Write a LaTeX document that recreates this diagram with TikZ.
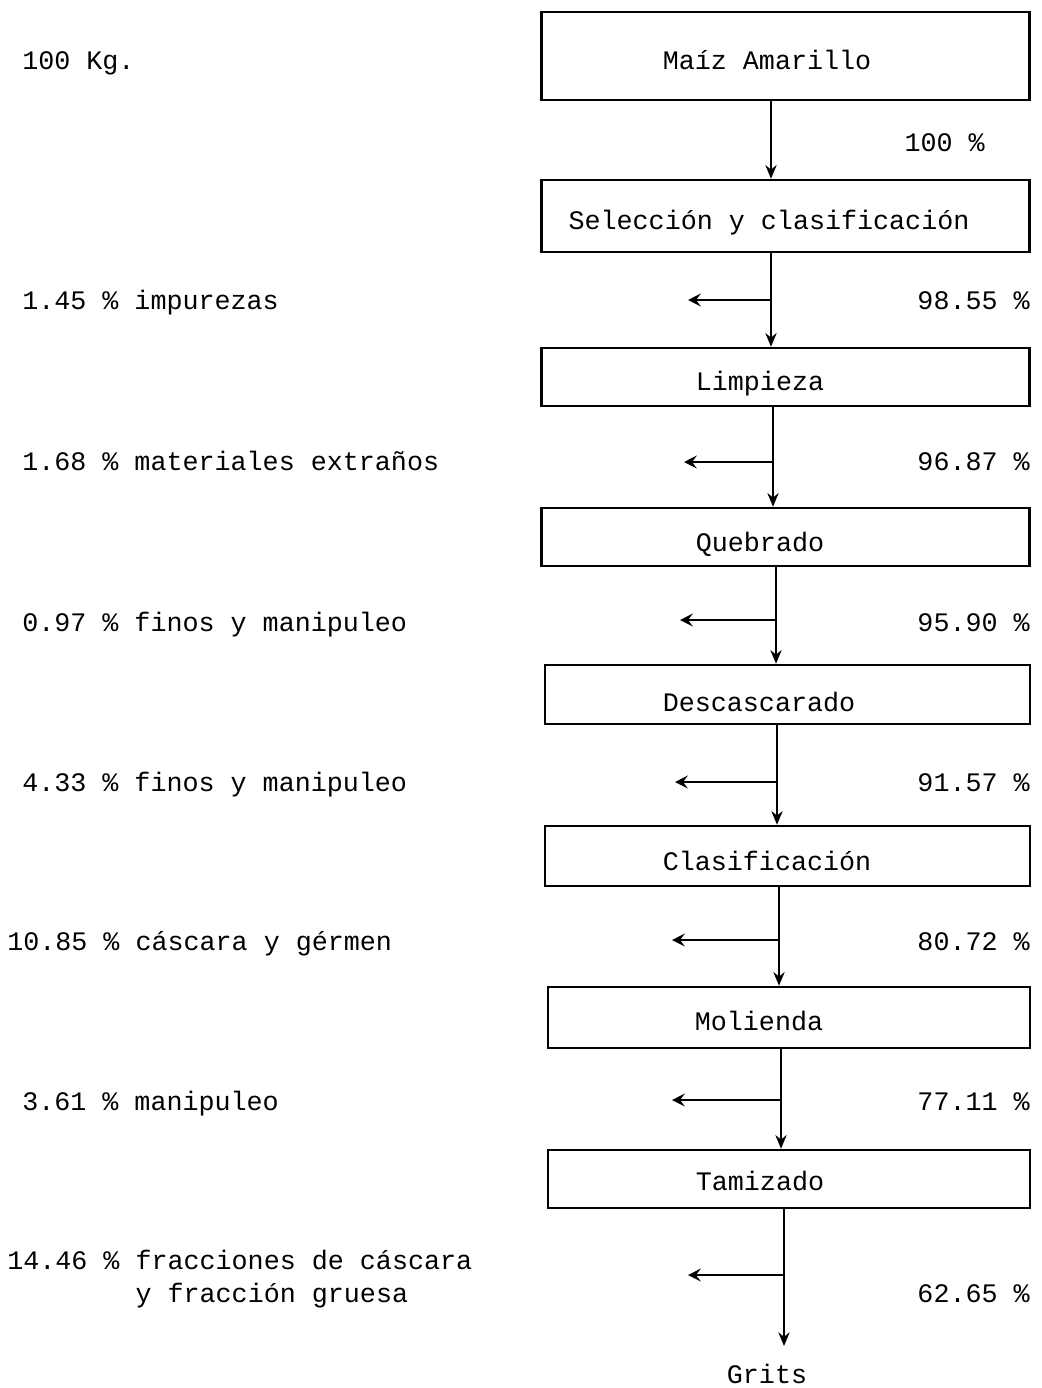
\documentclass[tikz,border=0pt]{standalone}
\usepackage{fontspec}
\setmonofont{Liberation Mono}
\usetikzlibrary{arrows.meta, positioning, calc}

\begin{document}
\begin{tikzpicture}[
    x=0.025cm, y=-0.025cm,
    font=\ttfamily\fontsize{19}{23}\selectfont,
    etapa/.style={rectangle, draw=black, line width=1.8pt, minimum width=12.2cm, inner sep=0pt},
    txt/.style={inner sep=0pt},
    flujo/.style={-{Stealth[length=3.4mm, width=2.8mm]}, line width=1.5pt},
    merma/.style={-{Stealth[length=3.2mm, width=3.2mm, inset=1.2mm]}, line width=1.8pt}
]
\useasboundingbox (0,0) rectangle (1041,1388);

% Etapas del proceso
\node[etapa, minimum height=2.2cm] (maiz) at (785.5,56) {};
\node[etapa, minimum height=1.8cm] (sel) at (785.5,216) {};
\node[etapa, minimum height=1.45cm] (limp) at (785.5,377) {};
\node[etapa, minimum height=1.45cm] (queb) at (785.5,537) {};
\node[etapa, minimum width=12.125cm, minimum height=1.475cm] (desc) at (787.5,694.5) {};
\node[etapa, minimum width=12.125cm, minimum height=1.5cm] (clas) at (787.5,856) {};
\node[etapa, minimum width=12.05cm, minimum height=1.525cm] (mol) at (789,1017.5) {};
\node[etapa, minimum width=12.05cm, minimum height=1.45cm] (tam) at (789,1179) {};

\node[txt, anchor=base] (tmaiz) at (767,69) {Maíz Amarillo};
\node[txt, anchor=base] (tsel) at (769,229) {Selección y clasificación};
\node[txt, anchor=base] (tlimp) at (760,390) {Limpieza};
\node[txt, anchor=base] (tqueb) at (760,551) {Quebrado};
\node[txt, anchor=base] (tdesc) at (759,711) {Descascarado};
\node[txt, anchor=base] (tclas) at (767,870) {Clasificación};
\node[txt, anchor=base] (tmol) at (759,1030) {Molienda};
\node[txt, anchor=base] (ttam) at (760,1190) {Tamizado};
\node[txt, anchor=base] (grits) at (767,1383) {Grits};

% Puntos de derivacion
\coordinate (r0) at (771,140);
\coordinate (r1) at (771,300);  \coordinate (s1) at (688,300);
\coordinate (r2) at (773,462);  \coordinate (s2) at (684,462);
\coordinate (r3) at (776,620);  \coordinate (s3) at (680,620);
\coordinate (r4) at (777,782);  \coordinate (s4) at (675,782);
\coordinate (r5) at (779,940);  \coordinate (s5) at (672,940);
\coordinate (r6) at (781,1100); \coordinate (s6) at (672,1100);
\coordinate (r7) at (784,1275); \coordinate (s7) at (688,1275);
\coordinate (fin) at (784,1346);

% Flujo principal
\draw[flujo] (maiz.south -| r0) -- (sel.north -| r0);
\draw[flujo] (sel.south -| r1) -- (limp.north -| r1);
\draw[flujo] (limp.south -| r2) -- (queb.north -| r2);
\draw[flujo] (queb.south -| r3) -- (desc.north -| r3);
\draw[flujo] (desc.south -| r4) -- (clas.north -| r4);
\draw[flujo] (clas.south -| r5) -- (mol.north -| r5);
\draw[flujo] (mol.south -| r6) -- (tam.north -| r6);
\draw[flujo] (tam.south -| r7) -- (fin);

% Mermas
\draw[merma] (r1) -- (s1);
\draw[merma] (r2) -- (s2);
\draw[merma] (r3) -- (s3);
\draw[merma] (r4) -- (s4);
\draw[merma] (r5) -- (s5);
\draw[merma] (r6) -- (s6);
\draw[merma] (r7) -- (s7);

% Rendimientos
\node[txt, anchor=base east] (p0) at (985,151) {100 \%};
\node[txt, anchor=base east] (p1) at (1030,309) {98.55 \%};
\node[txt, anchor=base east] (p2) at (1030,470) {96.87 \%};
\node[txt, anchor=base east] (p3) at (1030,631) {95.90 \%};
\node[txt, anchor=base east] (p4) at (1030,791) {91.57 \%};
\node[txt, anchor=base east] (p5) at (1030,950) {80.72 \%};
\node[txt, anchor=base east] (p6) at (1030,1110) {77.11 \%};
\node[txt, anchor=base east] (p7) at (1030,1302) {62.65 \%};

% Perdidas
\node[txt, anchor=base west] (kg) at (22,69) {100 Kg.};
\node[txt, anchor=base west] (m1) at (22,309) {1.45 \% impurezas};
\node[txt, anchor=base west] (m2) at (22,470) {1.68 \% materiales extraños};
\node[txt, anchor=base west] (m3) at (22,631) {0.97 \% finos y manipuleo};
\node[txt, anchor=base west] (m4) at (22,791) {4.33 \% finos y manipuleo};
\node[txt, anchor=base west] (m5) at (7,950) {10.85 \% cáscara y gérmen};
\node[txt, anchor=base west] (m6) at (22,1110) {3.61 \% manipuleo};
\node[txt, anchor=base west, align=left] (m7) at (7,1302) {14.46 \% fracciones de cáscara\\\phantom{14.46 \% }y fracción gruesa};

\end{tikzpicture}
\end{document}
